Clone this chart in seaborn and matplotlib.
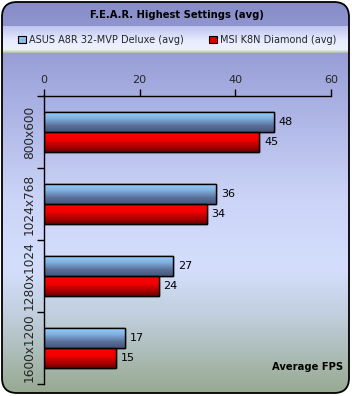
import numpy as np
import pandas as pd
import matplotlib
matplotlib.use("Agg")
import matplotlib.pyplot as plt
from matplotlib.patches import FancyBboxPatch, Patch, Rectangle
from matplotlib.colors import LinearSegmentedColormap
import seaborn as sns

# ---- data ----
resolutions = ["800x600", "1024x768", "1280x1024", "1600x1200"]
asus_fps = [48, 36, 27, 17]
msi_fps = [45, 34, 24, 15]
series_names = ["ASUS A8R 32-MVP Deluxe (avg)", "MSI K8N Diamond (avg)"]
x_ticks = [0, 20, 40, 60]
title = "F.E.A.R. Highest Settings (avg)"
axis_title = "Average FPS"

df = pd.DataFrame({
    "Resolution": resolutions * 2,
    "FPS": asus_fps + msi_fps,
    "Board": [series_names[0]] * 4 + [series_names[1]] * 4,
})

sns.set_theme(style="white")
plt.rcParams["font.family"] = ["DejaVu Sans"]

W, H = 352, 396
fig = plt.figure(figsize=(W / 100, H / 100), dpi=100)
fig.patch.set_facecolor("white")

# ---- background panel ----
bg = fig.add_axes([0, 0, 1, 1], zorder=0)
bg.set_xlim(0, W)
bg.set_ylim(H, 0)
bg.axis("off")
stops = [(0.0, (135, 140, 200)), (0.25, (168, 175, 226)), (0.5, (203, 212, 247)),
         (0.68, (212, 222, 252)), (0.8, (192, 206, 220)), (1.0, (150, 168, 142))]
bg_cmap = LinearSegmentedColormap.from_list(
    "bg", [(p, tuple(c / 255 for c in col)) for p, col in stops])
grad = np.linspace(0, 1, 256).reshape(-1, 1)
box = FancyBboxPatch((2, 2), W - 5, H - 5, boxstyle="round,pad=0,rounding_size=15",
                     facecolor="none", edgecolor="black", linewidth=1.3, zorder=5)
bg.add_patch(box)
im = bg.imshow(grad, cmap=bg_cmap, extent=(0, W, H, 0), aspect="auto", zorder=1)
im.set_clip_path(box)
# legend band
band_stops = [(0.0, (190, 196, 238)), (0.55, (232, 237, 255)), (0.88, (238, 242, 255)),
              (1.0, (170, 188, 160))]
band_cmap = LinearSegmentedColormap.from_list(
    "band", [(p, tuple(c / 255 for c in col)) for p, col in band_stops])
bim = bg.imshow(grad, cmap=band_cmap, extent=(3, W - 3, 53, 26), aspect="auto", zorder=2)
bg.set_xlim(0, W)
bg.set_ylim(H, 0)

bg.text(W / 2 + 1, 15, title, ha="center", va="center", fontsize=7.2,
        fontweight="bold", color="black", zorder=6)
bg.text(343, 367, axis_title, ha="right", va="center", fontsize=7.2,
        fontweight="bold", color="black", zorder=6)

# ---- main chart ----
ax = fig.add_axes([44 / W, 1 - 384 / H, (331 - 44) / W, (384 - 96) / H], zorder=2)
ax.set_facecolor("none")
blue, red = "#7fb0e0", "#e00000"
sns.barplot(data=df, y="Resolution", x="FPS", hue="Board", order=resolutions,
            hue_order=series_names, palette=[blue, red], orient="h", width=0.556,
            edgecolor="black", linewidth=1.0, ax=ax, legend=False)

blue_cmap = LinearSegmentedColormap.from_list(
    "bb", [(0, "#9ad0fa"), (0.35, "#80b0e0"), (0.7, "#5a7098"), (1, "#46557a")])
red_cmap = LinearSegmentedColormap.from_list(
    "rr", [(0, "#ff0000"), (0.4, "#f20000"), (0.75, "#aa0000"), (1, "#6a0000")])

patches = list(ax.patches)
for i, p in enumerate(patches):
    x0, y0 = p.get_x(), p.get_y()
    w, h = p.get_width(), p.get_height()
    cm = blue_cmap if i < len(resolutions) else red_cmap
    gi = ax.imshow(grad, cmap=cm, extent=(x0, x0 + w, y0 + h, y0), aspect="auto",
                   zorder=p.get_zorder() + 0.1, interpolation="bilinear")
    gi.set_clip_path(p)
    ax.add_patch(Rectangle((x0, y0), w, h, facecolor="none", edgecolor="black",
                           linewidth=1.0, zorder=p.get_zorder() + 0.2))
    ax.text(x0 + w + 1.0, y0 + h / 2, f"{w:.0f}", va="center", ha="left",
            fontsize=8, color="black", zorder=6)

ax.set_xlim(0, 60)
ax.set_ylim(3.5, -0.5)
ax.xaxis.tick_top()
ax.set_xticks(x_ticks)
ax.set_xticklabels([str(t) for t in x_ticks], fontsize=8)
ax.tick_params(axis="x", direction="out", length=5, width=1, color="black",
               pad=3, top=True, bottom=False)
ax.set_yticks([-0.5, 0.5, 1.5, 2.5, 3.5])
ax.set_yticklabels([])
ax.set_yticks(range(len(resolutions)), minor=True)
ax.set_yticklabels(resolutions, minor=True, rotation=90, va="center", fontsize=8.7)
ax.tick_params(axis="y", which="major", direction="out", length=5, width=1,
               color="black", left=True)
ax.tick_params(axis="y", which="minor", length=0, pad=6)
ax.set_xlabel("")
ax.set_ylabel("")
for s in ["bottom", "right"]:
    ax.spines[s].set_visible(False)
for s in ["top", "left"]:
    ax.spines[s].set_visible(True)
    ax.spines[s].set_color("black")
    ax.spines[s].set_linewidth(1.0)

# legend
handles = [Patch(facecolor="#8cbde8", edgecolor="black", linewidth=0.8),
           Patch(facecolor="#e00000", edgecolor="black", linewidth=0.8)]
fig.legend(handles, series_names, loc="center", bbox_to_anchor=(177 / W, 1 - 40 / H),
           ncol=2, frameon=False, fontsize=7.0, handlelength=0.8, handleheight=0.8,
           handletextpad=0.3, columnspacing=2.6)

fig.savefig("out.png", dpi=100)
